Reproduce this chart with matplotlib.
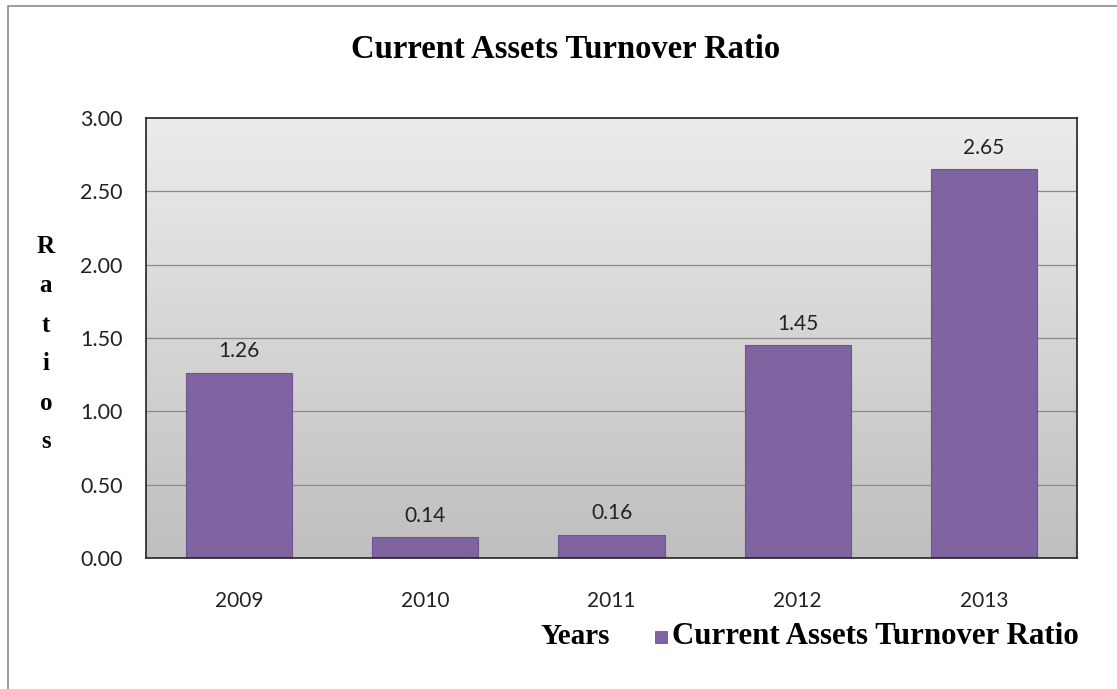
import numpy as np
import matplotlib.pyplot as plt
from matplotlib.patches import Rectangle

# Données du graphique
years = ["2009", "2010", "2011", "2012", "2013"]
ratios = [1.26, 0.14, 0.16, 1.45, 2.65]
y_ticks = [0.0, 0.5, 1.0, 1.5, 2.0, 2.5, 3.0]

bar_color = "#8064A2"
sans = ["Lato", "DejaVu Sans"]
serif = ["Liberation Serif", "DejaVu Serif"]

fig = plt.figure(figsize=(11.17, 6.89), dpi=100)
ax = fig.add_axes([146 / 1117, 1 - 558 / 689, (1077 - 146) / 1117, (558 - 118) / 689])

# Cadre extérieur
fig.patches.append(Rectangle((8 / 1117, -0.1), 1.2, 1 - 6 / 689 + 0.1,
                             transform=fig.transFigure, fill=False,
                             edgecolor="#8c8c8c", linewidth=1.2))

# Fond en dégradé
grad = np.linspace(0, 1, 256).reshape(-1, 1)
ax.imshow(grad, extent=(0, 1, 0, 1), transform=ax.transAxes, aspect="auto",
          cmap=plt.matplotlib.colors.LinearSegmentedColormap.from_list(
              "g", ["#bfbfbf", "#ececec"]), origin="lower", zorder=0)

x = np.arange(len(years))
ax.set_xlim(-0.5, len(years) - 0.5)
ax.set_ylim(0, 3)
for t in y_ticks[1:-1]:
    ax.axhline(t, color="#8a8a8a", linewidth=0.9, zorder=1)

bars = ax.bar(x, ratios, width=0.57, color=bar_color, edgecolor="#6e558f",
              linewidth=0.8, zorder=2)
for xi, v in zip(x, ratios):
    ax.text(xi, v + 0.08, f"{v:.2f}", ha="center", va="bottom",
            fontsize=15, family=sans, color="#222222")

ax.set_xticks(x)
ax.set_xticklabels(years, family=sans, fontsize=15, color="#222222")
ax.set_yticks(y_ticks)
ax.set_yticklabels([f"{t:.2f}" for t in y_ticks], family=sans, fontsize=15.5,
                   color="#222222")
ax.tick_params(length=0)
ax.tick_params(axis="y", pad=17)
ax.tick_params(axis="x", pad=24)
for s in ax.spines.values():
    s.set_color("#222222")
    s.set_linewidth(1.2)

fig.text(566 / 1117, 1 - 50 / 689, "Current Assets Turnover Ratio",
         ha="center", va="center", family=serif, fontweight="bold", fontsize=23.5)

# Étiquette verticale lettre par lettre
for i, ch in enumerate("Ratios"):
    fig.text(46 / 1117, 1 - (247 + i * 39) / 689, ch, ha="center", va="center",
             family=serif, fontweight="bold", fontsize=18)

fig.text(575 / 1117, 1 - 637 / 689, "Years", ha="center", va="center",
         family=serif, fontweight="bold", fontsize=21)
fig.patches.append(Rectangle((655 / 1117, 1 - 643 / 689), 12 / 1117, 12 / 689,
                             transform=fig.transFigure, facecolor=bar_color,
                             edgecolor="#6e558f", linewidth=0.6))
fig.text(672 / 1117, 1 - 637 / 689, "Current Assets Turnover Ratio",
         ha="left", va="center", family=serif, fontweight="bold", fontsize=22.2)

fig.savefig("out.png", dpi=100)
